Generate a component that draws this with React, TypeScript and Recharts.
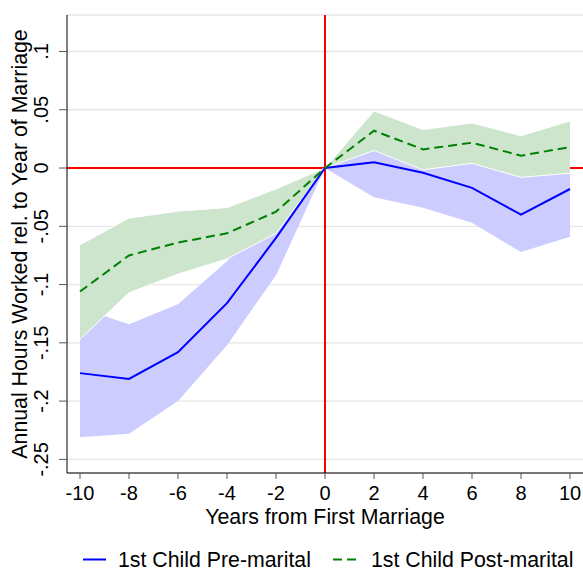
import {
  ComposedChart,
  Area,
  Line,
  XAxis,
  YAxis,
  CartesianGrid,
  ReferenceLine,
  Legend,
  Label,
} from 'recharts';

const years = [-10, -8, -6, -4, -2, 0, 2, 4, 6, 8, 10];

// 1st child born before marriage
const preMean = [-0.176, -0.181, -0.158, -0.116, -0.06, 0, 0.005, -0.004, -0.017, -0.04, -0.018];
const preLow = [-0.231, -0.228, -0.2, -0.152, -0.092, 0, -0.025, -0.034, -0.047, -0.072, -0.059];
const preHigh = [-0.12, -0.134, -0.117, -0.08, -0.028, 0, 0.035, 0.026, 0.014, -0.008, 0.023];

// 1st child born after marriage
const postMean = [-0.106, -0.075, -0.064, -0.056, -0.0375, 0, 0.032, 0.016, 0.0217, 0.0106, 0.018];
const postLow = [-0.147, -0.107, -0.091, -0.078, -0.056, 0, 0.015, -0.0015, 0.004, -0.008, -0.0045];
const postHigh = [-0.066, -0.043, -0.037, -0.034, -0.018, 0, 0.049, 0.033, 0.0386, 0.0277, 0.0403];

const xTicks = [-10, -8, -6, -4, -2, 0, 2, 4, 6, 8, 10];
const yTicks = [0.1, 0.05, 0, -0.05, -0.1, -0.15, -0.2, -0.25];
const yTickLabels = ['.1', '.05', '0', '-.05', '-.1', '-.15', '-.2', '-.25'];

const FONT = '"Liberation Sans", Arial, Helvetica, sans-serif';
const BLUE = '#0000ff';
const GREEN = '#008000';

const data = years.map((year, i) => ({
  year,
  pre: preMean[i],
  preBand: [preLow[i], preHigh[i]],
  post: postMean[i],
  postBand: [postLow[i], postHigh[i]],
}));

function YTick(props: any) {
  const { x, y, payload } = props;
  const idx = yTicks.indexOf(payload.value);
  const text = idx >= 0 ? yTickLabels[idx] : String(payload.value);
  return (
    <text
      x={x}
      y={y}
      transform={`rotate(-90, ${x}, ${y})`}
      textAnchor="middle"
      fontSize={20}
      fill="#000"
      fontFamily={FONT}
    >
      {text}
    </text>
  );
}

function XTitle(props: any) {
  const vb = props.viewBox;
  return (
    <text
      x={vb.x + vb.width / 2}
      y={vb.y + 50.5}
      textAnchor="middle"
      fontSize={21.3}
      fill="#000"
      fontFamily={FONT}
    >
      Years from First Marriage
    </text>
  );
}

function YTitle(props: any) {
  const vb = props.viewBox;
  const cx = 27;
  const cy = vb.y + vb.height / 2;
  return (
    <text
      x={cx}
      y={cy}
      transform={`rotate(-90, ${cx}, ${cy})`}
      textAnchor="middle"
      fontSize={21.3}
      fill="#000"
      fontFamily={FONT}
    >
      Annual Hours Worked rel. to Year of Marriage
    </text>
  );
}

function LegendBox() {
  return (
    <svg width={583} height={26} style={{ display: 'block' }}>
      <line x1={83} x2={106} y1={14.5} y2={14.5} stroke={BLUE} strokeWidth={2} />
      <text x={118} y={21.5} fontSize={21.3} fill="#000" fontFamily={FONT}>
        1st Child Pre-marital
      </text>
      <line
        x1={333}
        x2={359}
        y1={14.5}
        y2={14.5}
        stroke={GREEN}
        strokeWidth={2}
        strokeDasharray="9 5"
      />
      <text x={371} y={21.5} fontSize={21.3} fill="#000" fontFamily={FONT}>
        1st Child Post-marital
      </text>
    </svg>
  );
}

export default function App() {
  return (
    <div
      style={{
        position: 'absolute',
        left: 0,
        top: 0,
        width: 583,
        height: 571,
        background: '#fff',
        fontFamily: FONT,
      }}
    >
      <ComposedChart
        width={583}
        height={571}
        data={data}
        margin={{ top: 15, right: 0, bottom: 12, left: 0 }}
      >
        <CartesianGrid vertical={false} stroke="#e6e6e6" strokeWidth={1.3} />
        <XAxis
          dataKey="year"
          type="number"
          domain={[-10.53, 10.53]}
          ticks={xTicks}
          allowDataOverflow
          height={60}
          tickSize={6}
          tickMargin={7}
          stroke="#000"
          tick={{ fontSize: 20, fill: '#000' }}
          tickLine={{ stroke: '#555' }}
        >
          <Label content={<XTitle />} />
        </XAxis>
        <YAxis
          type="number"
          domain={[-0.2617, 0.1313]}
          ticks={yTicks}
          allowDataOverflow
          width={67}
          tickSize={8}
          tickMargin={11}
          stroke="#000"
          tick={<YTick />}
          tickLine={{ stroke: '#555' }}
        >
          <Label content={<YTitle />} />
        </YAxis>
        {/* red zero lines sit under the bands */}
        <ReferenceLine y={0} stroke="#ff0000" strokeWidth={2} zIndex={-50} />
        <ReferenceLine x={0} stroke="#ff0000" strokeWidth={2} zIndex={-50} />
        <Area
          dataKey="preBand"
          type="linear"
          stroke="none"
          fill="#ccccff"
          fillOpacity={1}
          isAnimationActive={false}
          legendType="none"
        />
        <Area
          dataKey="postBand"
          type="linear"
          stroke="#ffffff"
          strokeWidth={1}
          fill="#cce5cc"
          fillOpacity={1}
          isAnimationActive={false}
          legendType="none"
        />
        <Line
          dataKey="pre"
          type="linear"
          stroke={BLUE}
          strokeWidth={2}
          dot={false}
          isAnimationActive={false}
        />
        <Line
          dataKey="post"
          type="linear"
          stroke={GREEN}
          strokeWidth={2}
          strokeDasharray="9 5"
          dot={false}
          isAnimationActive={false}
        />
        <Legend
          content={<LegendBox />}
          verticalAlign="bottom"
          wrapperStyle={{ position: 'absolute', top: 545, left: 0, bottom: 'auto', width: 583, height: 26 }}
        />
      </ComposedChart>
    </div>
  );
}
